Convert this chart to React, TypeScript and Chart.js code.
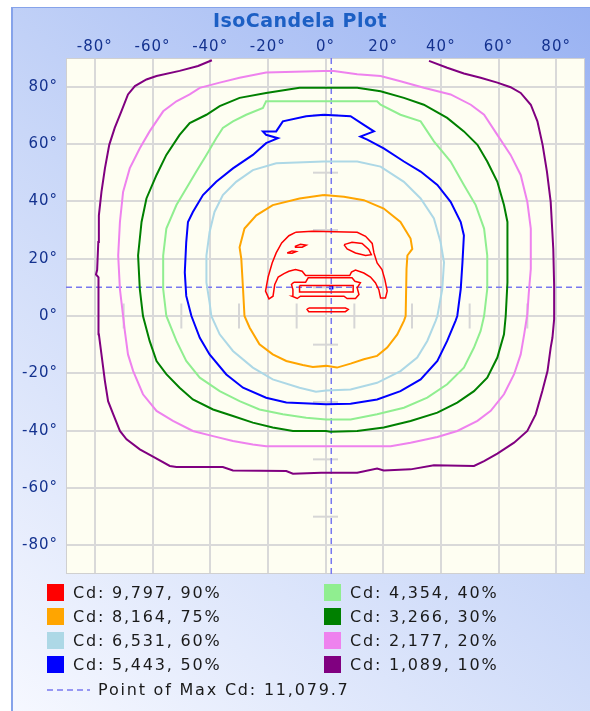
import React, { useEffect, useRef } from 'react';
import { Chart, registerables } from 'chart.js';

Chart.register(...registerables);

// ---- axis ticks ----
const xTicks = [-80, -60, -40, -20, 0, 20, 40, 60, 80];
const yTicks = [-80, -60, -40, -20, 0, 20, 40, 60, 80];
const minorTicks = [-70, -50, -30, -10, 10, 30, 50, 70];

// ---- levels ----
const levelCd = [9797, 8164, 6531, 5443, 4354, 3266, 2177, 1089];
const levelPct = [90, 75, 60, 50, 40, 30, 20, 10];
const levelColors = ['#ff0000', '#ffa500', '#add8e6', '#0000ff', '#90ee90', '#008000', '#ee82ee', '#800080'];
const maxCd = 11079.7;
const maxPoint = [2, 10];

// ---- contours (degrees: [horizontal, vertical]) ----
const purple10 = [
  [35.9, 89.0], [42.2, 86.6], [48.0, 84.6], [53.8, 83.1], [59.6, 81.4], [64.2, 79.8], [67.7, 77.8], [71.2, 73.7],
  [73.5, 67.9], [75.3, 59.7], [76.8, 50.4], [78.1, 39.8], [79.0, 23.4], [79.3, 10.6], [79.3, -1.1], [78.7, -7.6],
  [78.1, -11.0], [77.0, -19.2], [75.2, -26.2], [72.9, -34.3], [70.0, -40.1], [65.4, -44.2], [59.6, -48.0],
  [55.0, -50.6], [51.5, -52.3], [37.6, -52.1], [29.5, -53.5], [20.2, -53.9], [17.9, -53.2], [11.0, -54.7],
  [1.7, -54.7], [-1.5, -54.7], [-11.3, -55.0], [-13.6, -54.1], [-32.1, -53.9], [-35.6, -52.7], [-51.7, -52.7],
  [-54.0, -52.3], [-59.2, -49.4], [-64.4, -46.5], [-69.0, -43.0], [-71.3, -40.1], [-73.6, -34.3], [-75.4, -29.7],
  [-76.5, -22.7], [-77.7, -13.4], [-78.6, -6.4], [-78.6, 0.6], [-78.8, 9.4], [-78.8, 13.5], [-79.6, 14.5],
  [-79.2, 16.0], [-78.8, 25.8], [-78.6, 35.1], [-77.7, 43.3], [-76.5, 51.5], [-75.0, 59.7], [-73.1, 65.6],
  [-70.8, 71.4], [-68.5, 77.3], [-66.1, 80.2], [-62.1, 82.5], [-58.6, 83.7], [-50.6, 85.5], [-44.2, 87.2], [-39.4, 89.2],
];
const pink20 = [
  [-0.6, 85.5], [-20.6, 84.9], [-29.8, 83.1], [-36.7, 81.4], [-43.6, 79.6], [-47.1, 77.3], [-51.7, 74.9], [-56.3, 71.4],
  [-61.0, 64.4], [-64.4, 58.5], [-67.9, 51.5], [-70.2, 43.3], [-71.3, 32.8], [-71.9, 21.1], [-71.3, 9.4], [-70.2, 0.0],
  [-69.6, -5.2], [-68.5, -13.4], [-66.7, -19.2], [-63.3, -27.3], [-58.6, -33.1], [-52.9, -36.6], [-46.0, -40.1],
  [-39.0, -41.9], [-32.1, -43.6], [-25.2, -44.8], [-20.6, -45.4], [22.6, -45.4], [29.5, -44.2], [38.8, -42.2],
  [45.7, -40.1], [52.7, -36.6], [57.3, -33.1], [61.9, -27.3], [65.4, -20.3], [67.7, -13.4], [68.9, -6.4], [70.0, 0.6],
  [70.5, 8.0], [71.2, 16.4], [71.2, 30.5], [70.0, 39.8], [67.7, 49.2], [64.2, 56.2], [59.6, 63.2], [55.0, 70.2],
  [50.4, 73.7], [43.4, 77.3], [34.1, 79.6], [26.0, 81.9], [19.1, 83.7], [11.0, 84.3], [2.9, 85.5], [-0.6, 85.5],
];
const green30 = [
  [-0.6, 79.6], [-9.0, 79.6], [-20.6, 77.8], [-29.8, 76.1], [-36.7, 73.2], [-41.3, 70.2], [-47.1, 67.3], [-50.6, 63.2],
  [-55.2, 56.2], [-58.6, 49.2], [-62.1, 41.0], [-63.8, 32.8], [-65.0, 21.1], [-64.4, 9.4], [-63.3, 0.0], [-61.0, -8.7],
  [-58.6, -15.7], [-55.2, -20.3], [-50.6, -25.0], [-46.0, -29.1], [-39.0, -32.6], [-32.1, -34.9], [-25.2, -37.2],
  [-18.3, -38.9], [-11.3, -40.1], [0.2, -40.1], [1.7, -40.4], [11.0, -40.1], [20.2, -38.9], [29.5, -36.6],
  [38.8, -33.7], [45.7, -30.2], [51.5, -26.2], [56.1, -21.5], [59.6, -14.5], [61.9, -6.4], [62.5, 0.0], [63.1, 11.7],
  [63.1, 32.8], [61.9, 38.7], [59.6, 46.8], [56.1, 53.9], [52.7, 59.7], [48.0, 64.4], [42.2, 69.1], [34.1, 73.7],
  [27.2, 76.1], [19.1, 78.4], [11.0, 79.6], [-0.6, 79.6],
];
const lightGreen40 = [
  [-0.6, 74.9], [-20.6, 74.9], [-21.7, 72.6], [-27.5, 70.2], [-32.1, 67.9], [-35.6, 65.6], [-37.9, 62.0], [-41.3, 56.2],
  [-44.8, 50.4], [-48.3, 44.5], [-51.7, 38.7], [-55.2, 30.5], [-56.3, 21.1], [-56.3, 9.4], [-55.2, 0.0], [-51.7, -8.7],
  [-48.3, -15.7], [-43.6, -21.5], [-36.7, -26.2], [-29.8, -29.7], [-22.9, -32.6], [-14.8, -34.3], [-6.7, -35.5],
  [0.2, -36.1], [8.7, -36.1], [17.9, -34.3], [27.2, -32.0], [35.3, -28.5], [42.2, -23.8], [48.0, -18.0], [51.5, -11.0],
  [53.8, -5.2], [55.0, 0.0], [56.1, 9.4], [56.1, 21.1], [55.0, 30.5], [52.1, 38.7], [48.0, 45.7], [43.4, 53.9],
  [37.6, 60.9], [33.0, 67.9], [26.0, 70.2], [19.1, 73.7], [17.9, 74.9], [-0.6, 74.9],
];
const blue50 = [
  [-0.6, 70.2], [-6.7, 69.7], [-14.8, 67.9], [-17.1, 64.4], [-21.7, 64.4], [-20.6, 63.2], [-16.5, 62.0], [-20.6, 60.3],
  [-25.2, 56.2], [-32.1, 51.5], [-37.9, 46.8], [-42.5, 42.2], [-46.0, 36.3], [-47.7, 32.8], [-48.3, 25.8],
  [-48.8, 15.2], [-48.3, 7.0], [-46.5, 0.0], [-43.6, -7.6], [-40.2, -13.4], [-34.4, -20.4], [-28.6, -25.0],
  [-20.6, -28.5], [-13.6, -30.2], [0.2, -30.8], [8.7, -30.6], [17.9, -29.1], [26.0, -26.2], [33.0, -22.1],
  [38.8, -15.7], [42.2, -8.7], [45.1, -1.7], [45.7, 0.0], [46.9, 9.4], [47.5, 18.7], [48.0, 28.1], [46.9, 32.8],
  [43.4, 39.8], [38.8, 45.7], [33.0, 50.4], [27.2, 53.9], [20.2, 58.5], [14.5, 61.5], [12.1, 62.6], [16.8, 64.4],
  [13.3, 66.7], [8.7, 69.7], [-0.6, 70.2],
];
const lightBlue60 = [
  [-0.6, 53.9], [-17.1, 53.3], [-25.2, 50.9], [-31.0, 46.8], [-35.6, 42.2], [-38.5, 36.3], [-40.2, 29.3], [-41.3, 21.1],
  [-41.3, 11.7], [-40.2, 4.7], [-39.6, 0.0], [-36.7, -6.4], [-32.1, -12.2], [-25.2, -18.0], [-18.3, -22.1],
  [-9.0, -25.0], [-3.3, -26.4], [0.2, -26.0], [8.7, -25.6], [17.9, -23.3], [26.0, -19.2], [31.8, -14.5], [35.3, -8.7],
  [38.2, -1.7], [38.8, 0.0], [40.5, 9.4], [41.1, 18.7], [39.9, 25.8], [37.6, 34.0], [33.0, 41.0], [27.2, 46.8],
  [19.1, 52.1], [11.0, 53.9], [-0.6, 53.9],
];
const orange75 = [
  [-0.6, 42.2], [-9.0, 41.0], [-18.3, 38.7], [-24.0, 35.1], [-28.1, 30.5], [-29.8, 24.0], [-29.2, 19.9], [-28.6, 9.4],
  [-28.1, 0.0], [-26.3, -4.1], [-22.9, -9.9], [-18.3, -13.4], [-13.6, -15.7], [-7.9, -17.1], [-4.4, -17.8],
  [0.2, -17.4], [4.0, -18.0], [8.7, -16.6], [13.3, -15.1], [17.9, -13.9], [21.4, -11.0], [24.9, -6.4], [27.2, -1.7],
  [27.8, 0.0], [28.1, 16.4], [28.4, 21.1], [30.1, 23.4], [29.5, 27.0], [26.0, 32.8], [20.2, 37.5], [13.3, 40.4],
  [6.4, 41.6], [-0.6, 42.2],
];
const redArch = [
  [-10.4, 29.2], [-4.6, 29.6], [11.0, 29.2], [13.9, 27.8], [16.2, 25.3], [16.8, 22.0], [17.9, 18.5], [19.6, 16.2],
  [20.6, 12.7], [21.4, 8.7], [20.8, 6.3], [19.1, 6.3], [18.5, 9.2], [17.3, 11.6], [15.6, 13.6], [13.3, 15.0],
  [10.4, 16.0], [9.0, 15.3], [8.4, 14.1], [-6.9, 14.1], [-8.1, 15.6], [-10.4, 16.2], [-12.7, 15.6], [-14.4, 14.8],
  [-16.4, 13.6], [-17.6, 11.0], [-18.2, 6.9], [-19.6, 6.0], [-20.8, 8.7], [-19.9, 13.6], [-18.5, 18.5], [-17.1, 22.0],
  [-15.2, 25.5], [-12.7, 28.0], [-10.4, 29.2],
];
const redBone = [
  [-11.0, 11.8], [-6.9, 11.8], [-6.0, 13.3], [9.2, 13.3], [10.2, 12.1], [12.1, 11.6], [11.0, 9.8], [11.6, 7.5],
  [10.4, 6.1], [7.5, 6.1], [6.4, 6.9], [-8.7, 6.9], [-9.8, 6.1], [-11.6, 6.9], [-11.3, 9.2], [-11.8, 11.0], [-11.0, 11.8],
];
const redBoneInner = [[-9.0, 10.6], [9.6, 10.6], [9.6, 8.4], [-9.0, 8.4], [-9.0, 10.6]];
const redEyeL1 = [[-10.6, 24.3], [-8.7, 25.0], [-6.7, 24.7], [-8.1, 24.0], [-10.4, 24.0], [-10.6, 24.3]];
const redEyeL2 = [[-13.3, 22.0], [-11.6, 22.7], [-10.2, 22.5], [-11.6, 21.9], [-13.3, 22.0]];
const redEyeR = [[6.4, 24.9], [9.2, 25.7], [12.7, 25.3], [15.0, 23.2], [15.9, 21.4], [13.9, 21.1], [10.4, 22.0], [7.5, 23.4], [6.4, 24.9]];
const redMouth = [[-5.8, 2.8], [6.9, 2.8], [7.9, 2.3], [6.9, 1.5], [-5.8, 1.5], [-6.4, 2.3], [-5.8, 2.8]];

const FONT = "'DejaVu Sans', Verdana, sans-serif";
const TICK_COLOR = '#14328f';

const pts = (arr: number[][]) => arr.map(([x, y]) => ({ x, y }));

export default function App() {
  const ref = useRef<HTMLCanvasElement | null>(null);

  useEffect(() => {
    document.body.style.margin = '0';
    const canvas = ref.current;
    if (!canvas) return;

    const line = (data: number[][], color: string, width: number) => ({
      data: pts(data),
      showLine: true,
      borderColor: color,
      backgroundColor: color,
      borderWidth: width,
      pointRadius: 0,
      fill: false,
      tension: 0,
    });

    const datasets: any[] = [
      line(purple10, levelColors[7], 2),
      line(pink20, levelColors[6], 2),
      line(green30, levelColors[5], 2),
      line(lightGreen40, levelColors[4], 2),
      line(blue50, levelColors[3], 2),
      line(lightBlue60, levelColors[2], 2),
      line(orange75, levelColors[1], 2),
      line(redArch, levelColors[0], 1.5),
      line(redBone, levelColors[0], 1.5),
      line(redBoneInner, levelColors[0], 1.5),
      line(redEyeL1, levelColors[0], 1.5),
      line(redEyeL2, levelColors[0], 1.5),
      line(redEyeR, levelColors[0], 1.5),
      line(redMouth, levelColors[0], 1.5),
      {
        ...line([[-90, maxPoint[1]], [90, maxPoint[1]]], '#7878f0', 1.5),
        borderDash: [6, 4],
      },
      {
        ...line([[maxPoint[0], -90], [maxPoint[0], 90]], '#7878f0', 1.5),
        borderDash: [6, 4],
      },
      {
        data: [{ x: maxPoint[0], y: maxPoint[1] }],
        showLine: false,
        pointStyle: 'rect',
        pointRadius: 3,
        backgroundColor: '#0000ff',
        borderColor: '#0000ff',
        borderWidth: 0,
      },
    ];

    const bgPlugin = {
      id: 'bg',
      beforeDraw(chart: any) {
        const { ctx, chartArea: a } = chart;
        ctx.save();
        ctx.fillStyle = '#ffffff';
        ctx.fillRect(0, 0, 590, 711);
        const g = ctx.createLinearGradient(11, 711, 590, 7);
        g.addColorStop(0, '#f6f8ff');
        g.addColorStop(0.5, '#c9d7f8');
        g.addColorStop(1, '#99b2f2');
        ctx.fillStyle = g;
        ctx.fillRect(11, 7, 579, 704);
        ctx.fillStyle = '#86a3ea';
        ctx.fillRect(11, 7, 2, 704);
        ctx.fillRect(11, 7, 579, 1);
        ctx.fillStyle = '#fefef2';
        ctx.fillRect(a.left, a.top, a.right - a.left, a.bottom - a.top);
        ctx.restore();
        // slightly spaced text like the original's UI font
        (ctx as any).letterSpacing = '1px';
      },
    };

    const overlayPlugin = {
      id: 'overlay',
      beforeDatasetsDraw(chart: any) {
        const { ctx, chartArea: a, scales } = chart;
        const xs = scales.x;
        const ys = scales.y;
        ctx.save();
        ctx.strokeStyle = '#d6d6d6';
        ctx.lineWidth = 2;
        const x0 = xs.getPixelForValue(0);
        const y0 = ys.getPixelForValue(0);
        minorTicks.forEach((v) => {
          const px = xs.getPixelForValue(v);
          ctx.beginPath();
          ctx.moveTo(px, y0 - 12.5);
          ctx.lineTo(px, y0 + 12.5);
          ctx.stroke();
          const py = ys.getPixelForValue(v);
          ctx.beginPath();
          ctx.moveTo(x0 - 12.5, py);
          ctx.lineTo(x0 + 12.5, py);
          ctx.stroke();
        });
        ctx.lineWidth = 1;
        ctx.strokeStyle = '#d0d0d0';
        ctx.strokeRect(a.left + 0.5, a.top + 0.5, a.right - a.left - 1, a.bottom - a.top - 1);
        ctx.restore();
      },
      afterDraw(chart: any) {
        const { ctx } = chart;
        ctx.save();
        // title
        (ctx as any).letterSpacing = '0.5px';
        ctx.fillStyle = '#1c5fc4';
        ctx.font = `bold 19px ${FONT}`;
        ctx.textAlign = 'center';
        ctx.textBaseline = 'middle';
        ctx.fillText('IsoCandela Plot', 300, 22);
        // legend
        (ctx as any).letterSpacing = '1.8px';
        ctx.font = `16px ${FONT}`;
        ctx.textAlign = 'left';
        const rows = [592.5, 616.5, 640.5, 664.5];
        levelCd.forEach((cd, i) => {
          const col = i < 4 ? 0 : 1;
          const row = i % 4;
          const sx = col === 0 ? 47 : 324;
          const y = rows[row];
          ctx.fillStyle = levelColors[i];
          ctx.fillRect(sx, y - 8.5, 17, 17);
          ctx.fillStyle = '#1a1a1a';
          ctx.fillText(`Cd: ${cd.toLocaleString('en-US')}, ${levelPct[i]}%`, sx + 26, y + 1);
        });
        const ly = 690;
        ctx.strokeStyle = '#7878f0';
        ctx.lineWidth = 1.5;
        ctx.setLineDash([6, 4]);
        ctx.beginPath();
        ctx.moveTo(47, ly);
        ctx.lineTo(90, ly);
        ctx.stroke();
        ctx.setLineDash([]);
        ctx.fillStyle = '#1a1a1a';
        ctx.fillText(`Point of Max Cd: ${maxCd.toLocaleString('en-US', { minimumFractionDigits: 1 })}`, 98, ly + 1);
        ctx.restore();
      },
    };

    const tickFont = { family: FONT, size: 15 };

    const chart = new Chart(canvas, {
      type: 'scatter',
      data: { datasets },
      options: {
        animation: false,
        responsive: false,
        events: [],
        layout: { padding: { left: 0, top: 0, right: 5, bottom: 137 } },
        plugins: {
          legend: { display: false },
          title: { display: false },
          tooltip: { enabled: false },
        },
        scales: {
          x: {
            type: 'linear',
            position: 'top',
            min: -90,
            max: 90,
            afterBuildTicks: (s: any) => {
              s.ticks = xTicks.map((v) => ({ value: v }));
            },
            afterFit: (s: any) => {
              s.height = 58;
            },
            grid: { color: '#d9d9d9', lineWidth: 2, drawTicks: false },
            border: { display: false },
            ticks: {
              padding: 2,
              color: TICK_COLOR,
              font: tickFont,
              autoSkip: false,
              maxRotation: 0,
              callback: (v: any) => `${v}°`,
            },
          },
          y: {
            type: 'linear',
            position: 'left',
            min: -90,
            max: 90,
            afterBuildTicks: (s: any) => {
              s.ticks = yTicks.map((v) => ({ value: v }));
            },
            afterFit: (s: any) => {
              s.width = 66;
            },
            grid: { color: '#d9d9d9', lineWidth: 2, drawTicks: false },
            border: { display: false },
            ticks: {
              padding: 8,
              color: TICK_COLOR,
              font: tickFont,
              autoSkip: false,
              callback: (v: any) => `${v}°`,
            },
          },
        },
      } as any,
      plugins: [bgPlugin, overlayPlugin],
    });

    return () => chart.destroy();
  }, []);

  return (
    <div style={{ width: 590, height: 711, position: 'relative' }}>
      <canvas ref={ref} width={590} height={711} style={{ display: 'block', width: 590, height: 711 }} />
    </div>
  );
}
